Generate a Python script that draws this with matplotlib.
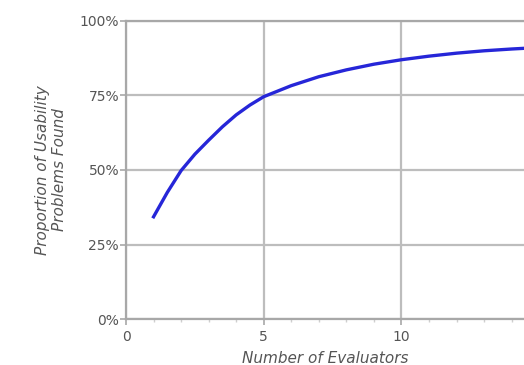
import matplotlib.pyplot as plt
from matplotlib.ticker import FuncFormatter, MultipleLocator

# proportion of usability problems found vs number of evaluators
evaluators = [1, 1.5, 2, 2.5, 3, 3.5, 4, 4.5, 5, 6, 7, 8, 9, 10, 11, 12, 13, 14, 15]
found = [0.343, 0.425, 0.498, 0.553, 0.600, 0.645, 0.685, 0.718, 0.746,
         0.783, 0.813, 0.836, 0.855, 0.870, 0.882, 0.892, 0.900, 0.906, 0.911]

y_ticks = [0, 0.25, 0.5, 0.75, 1.0]
x_ticks = [0, 5, 10]

grey = '#bdbdbd'
text_col = '#555555'

fig = plt.figure(figsize=(5.24, 3.65), dpi=100)
ax = fig.add_axes([0.2405, 0.126, 0.7595, 0.8165])

ax.plot(evaluators, found, color='#2626d8', linewidth=2.4, solid_joinstyle='round')

ax.set_xlim(0, 14.45)
ax.set_ylim(0, 1)
ax.set_xticks(x_ticks)
ax.set_yticks(y_ticks)
ax.xaxis.set_minor_locator(MultipleLocator(1))
ax.yaxis.set_major_formatter(FuncFormatter(lambda v, p: '%d%%' % round(v * 100)))

ax.grid(True, color=grey, linewidth=1.6)
ax.set_axisbelow(True)
for side in ['left', 'bottom', 'top']:
    ax.spines[side].set_color('#a8a8a8')
    ax.spines[side].set_linewidth(1.6)
ax.spines['right'].set_visible(False)

ax.tick_params(axis='both', colors='#a8a8a8', labelcolor=text_col, labelsize=10, length=4, width=1.2)
ax.tick_params(axis='x', which='minor', colors='#cfcfcf', length=2, width=1)
ax.tick_params(axis='y', pad=1)
ax.tick_params(axis='x', pad=4)

ax.set_xlabel('Number of Evaluators', fontsize=11, style='italic', color=text_col, labelpad=5)
ax.set_ylabel('Proportion of Usability\nProblems Found', fontsize=11, style='italic',
              color=text_col, labelpad=9, linespacing=1.15)

fig.savefig('out.png', dpi=100)
